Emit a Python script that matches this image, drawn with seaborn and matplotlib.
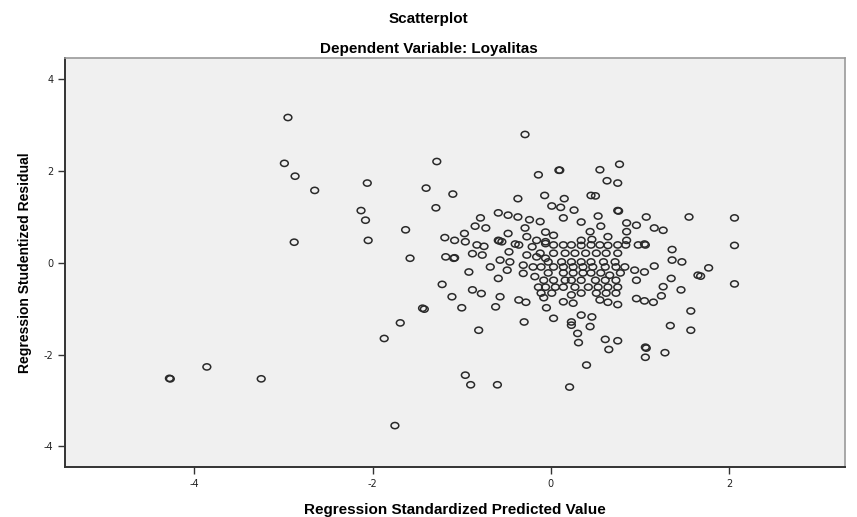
import seaborn as sns
import matplotlib.pyplot as plt
import pandas as pd
from matplotlib.markers import MarkerStyle
from matplotlib.transforms import Affine2D

plt.rcParams["axes.unicode_minus"] = False

# standardized predicted value (x) and studentized residual (y)
pred = [
    -2.95, -2.99, -2.87, -2.65, -2.06, -2.13, -2.08, -2.05, -2.88, -1.69, -1.87,
    -4.27, -4.28, -3.86, -3.25, -1.75,
    -1.28, -1.40, -1.10, -1.29, -1.63, -1.58, -1.44, -1.42,
    -0.29, -0.14, 0.09, 0.10, 0.55, 0.77, 0.63, 0.75, -0.37, -0.07, 0.15, 0.45,
    0.50, 0.01, 0.11, 0.26, 0.75, 0.76,
    -0.59, -0.48, -0.37, -0.79, -0.24, -0.12, 0.14, 0.53, 1.07, 1.55, 2.06,
    -0.85, -0.73, -0.29, 0.34, 0.56, 0.85, 0.96, 1.16, 1.26,
    -0.06, -0.97, -0.48, 0.03, 0.44, 0.85, -1.19, -0.27, 0.64,
    -1.08, -0.96, -0.59, -0.58, -0.55, -0.83, -0.75, -0.40, -0.36, -0.16, -0.06,
    -0.21, -0.06, 0.34, 0.46, 0.85, 1.05, 2.06,
    0.03, 0.14, 0.23, 0.34, 0.45, 0.55, 0.64, 0.75, 0.84, 0.98, 1.06,
    1.36,
    -1.18, -1.09, -1.08, -0.88, -0.77, -0.47, -0.27, -0.16, -0.06,
    -0.12, 0.03, 0.16, 0.27, 0.39, 0.51, 0.62, 0.75,
    -0.57, -0.46, -0.03, 1.36, 1.47,
    0.12, 0.23, 0.34, 0.45, 0.59, 0.72,
    -0.31, -0.20, -0.68, -0.92, -0.49, 1.16, 0.94, 1.05, 1.77, 1.68,
    -0.11, 0.03, 0.14, 0.25, 0.36, 0.47, 0.61, 0.73, 0.83,
    -0.31, -0.18, -0.59, 0.66, 1.35, 1.65,
    -0.03, 0.14, 0.25, 0.36, 0.45, 0.56, 0.78,
    -1.22, 0.96,
    -0.08, 0.03, 0.16, 0.23, 0.34, 0.50, 0.61, 0.73,
    1.26, 1.46,
    -0.14, -0.06, 0.05, 0.14, 0.27, 0.42, 0.53, 0.64, 0.75,
    -0.88, -0.78, -1.11, -0.57, 1.24, 0.23,
    -0.11, 0.01, 0.34, 0.51, 0.62, 0.73,
    -0.36, -0.28, -0.08, 0.14, 0.25, 0.55, 0.75, 0.96, 1.05, 1.15, 0.64,
    -1.00, -0.62, -0.05, 1.57,
    0.03, 0.34, 0.46,
    -0.30, 0.23, 0.23, 0.44, 1.34,
    -0.81, 1.57, 0.30,
    0.61, 0.75, 0.31,
    0.65, 1.06, 1.07, 1.28, 1.06,
    0.40, 0.21, -0.96, -0.90, -0.60,
    2.06,
]
resid = [
    3.17, 2.17, 1.89, 1.58, 1.74, 1.14, 0.93, 0.49, 0.45, -1.31, -1.65,
    -2.53, -2.52, -2.27, -2.53, -3.55,
    2.21, 1.63, 1.50, 1.20, 0.72, 0.10, -0.99, -1.01,
    2.80, 1.92, 2.02, 2.02, 2.03, 2.15, 1.79, 1.74, 1.40, 1.47, 1.40, 1.47,
    1.46, 1.24, 1.21, 1.15, 1.14, 1.13,
    1.09, 1.04, 1.00, 0.98, 0.94, 0.90, 0.98, 1.02, 1.00, 1.00, 0.98,
    0.80, 0.76, 0.76, 0.89, 0.80, 0.87, 0.82, 0.76, 0.71,
    0.67, 0.64, 0.64, 0.60, 0.68, 0.68, 0.55, 0.57, 0.57,
    0.49, 0.46, 0.49, 0.48, 0.46, 0.39, 0.36, 0.41, 0.39, 0.49, 0.46,
    0.35, 0.42, 0.49, 0.51, 0.49, 0.41, 0.38,
    0.39, 0.39, 0.39, 0.38, 0.39, 0.39, 0.38, 0.39, 0.39, 0.39, 0.39,
    0.29,
    0.13, 0.10, 0.11, 0.20, 0.17, 0.24, 0.17, 0.13, 0.10,
    0.21, 0.21, 0.21, 0.21, 0.21, 0.21, 0.21, 0.21,
    0.06, 0.02, 0.02, 0.06, 0.02,
    0.02, 0.02, 0.02, 0.02, 0.02, 0.02,
    -0.05, -0.09, -0.09, -0.20, -0.16, -0.07, -0.16, -0.20, -0.11, -0.29,
    -0.09, -0.09, -0.09, -0.09, -0.09, -0.09, -0.09, -0.09, -0.09,
    -0.23, -0.30, -0.34, -0.27, -0.34, -0.27,
    -0.22, -0.22, -0.22, -0.22, -0.22, -0.22, -0.22,
    -0.47, -0.38,
    -0.38, -0.38, -0.38, -0.38, -0.38, -0.38, -0.38, -0.38,
    -0.52, -0.59,
    -0.53, -0.53, -0.53, -0.53, -0.53, -0.53, -0.53, -0.53, -0.53,
    -0.59, -0.67, -0.74, -0.74, -0.72, -0.70,
    -0.66, -0.66, -0.66, -0.66, -0.66, -0.66,
    -0.81, -0.86, -0.76, -0.85, -0.88, -0.81, -0.91, -0.78, -0.83, -0.86, -0.86,
    -0.98, -0.96, -0.98, -1.05,
    -1.21, -1.14, -1.18,
    -1.29, -1.29, -1.36, -1.39, -1.37,
    -1.47, -1.47, -1.54,
    -1.67, -1.70, -1.74,
    -1.89, -1.84, -1.86, -1.96, -2.06,
    -2.23, -2.71, -2.45, -2.66, -2.66,
    -0.46,
]

df = pd.DataFrame({"pred": pred, "resid": resid})

fig = plt.figure(figsize=(8.57, 5.17), dpi=100)
ax = fig.add_axes([0.076, 0.097, 0.910, 0.791])
ax.set_facecolor("#f0f0f0")

mk = MarkerStyle("o", transform=Affine2D().scale(1.25, 1.0))
sns.scatterplot(data=df, x="pred", y="resid", ax=ax, marker=mk, s=20,
                facecolor="none", edgecolor="#2a2a2a", linewidth=1.1)

ax.set_xlim(-5.45, 3.3)
ax.set_ylim(-4.45, 4.47)
ax.set_xticks([-4, -2, 0, 2])
ax.set_yticks([-4, -2, 0, 2, 4])
ax.tick_params(axis="both", labelsize=7, length=5, width=1, color="#333333",
               labelcolor="#222222")

for side in ["top", "right"]:
    ax.spines[side].set_color("#9a9a9a")
    ax.spines[side].set_linewidth(1.2)
for side in ["left", "bottom"]:
    ax.spines[side].set_color("#333333")
    ax.spines[side].set_linewidth(1.4)

ax.set_xlabel("Regression Standardized Predicted Value", fontsize=11,
              fontweight="bold", family="Liberation Sans", labelpad=10)
ax.set_ylabel("Regression Studentized Residual", fontsize=10,
              fontweight="bold", family="Liberation Sans", labelpad=8)

fig.text(0.5, 0.963, "Scatterplot", ha="center", va="center", fontsize=11,
         fontweight="bold", family="Liberation Sans")
fig.text(0.5, 0.905, "Dependent Variable: Loyalitas", ha="center",
         va="center", fontsize=11, fontweight="bold", family="Liberation Sans")

fig.savefig("out.png", dpi=100)
